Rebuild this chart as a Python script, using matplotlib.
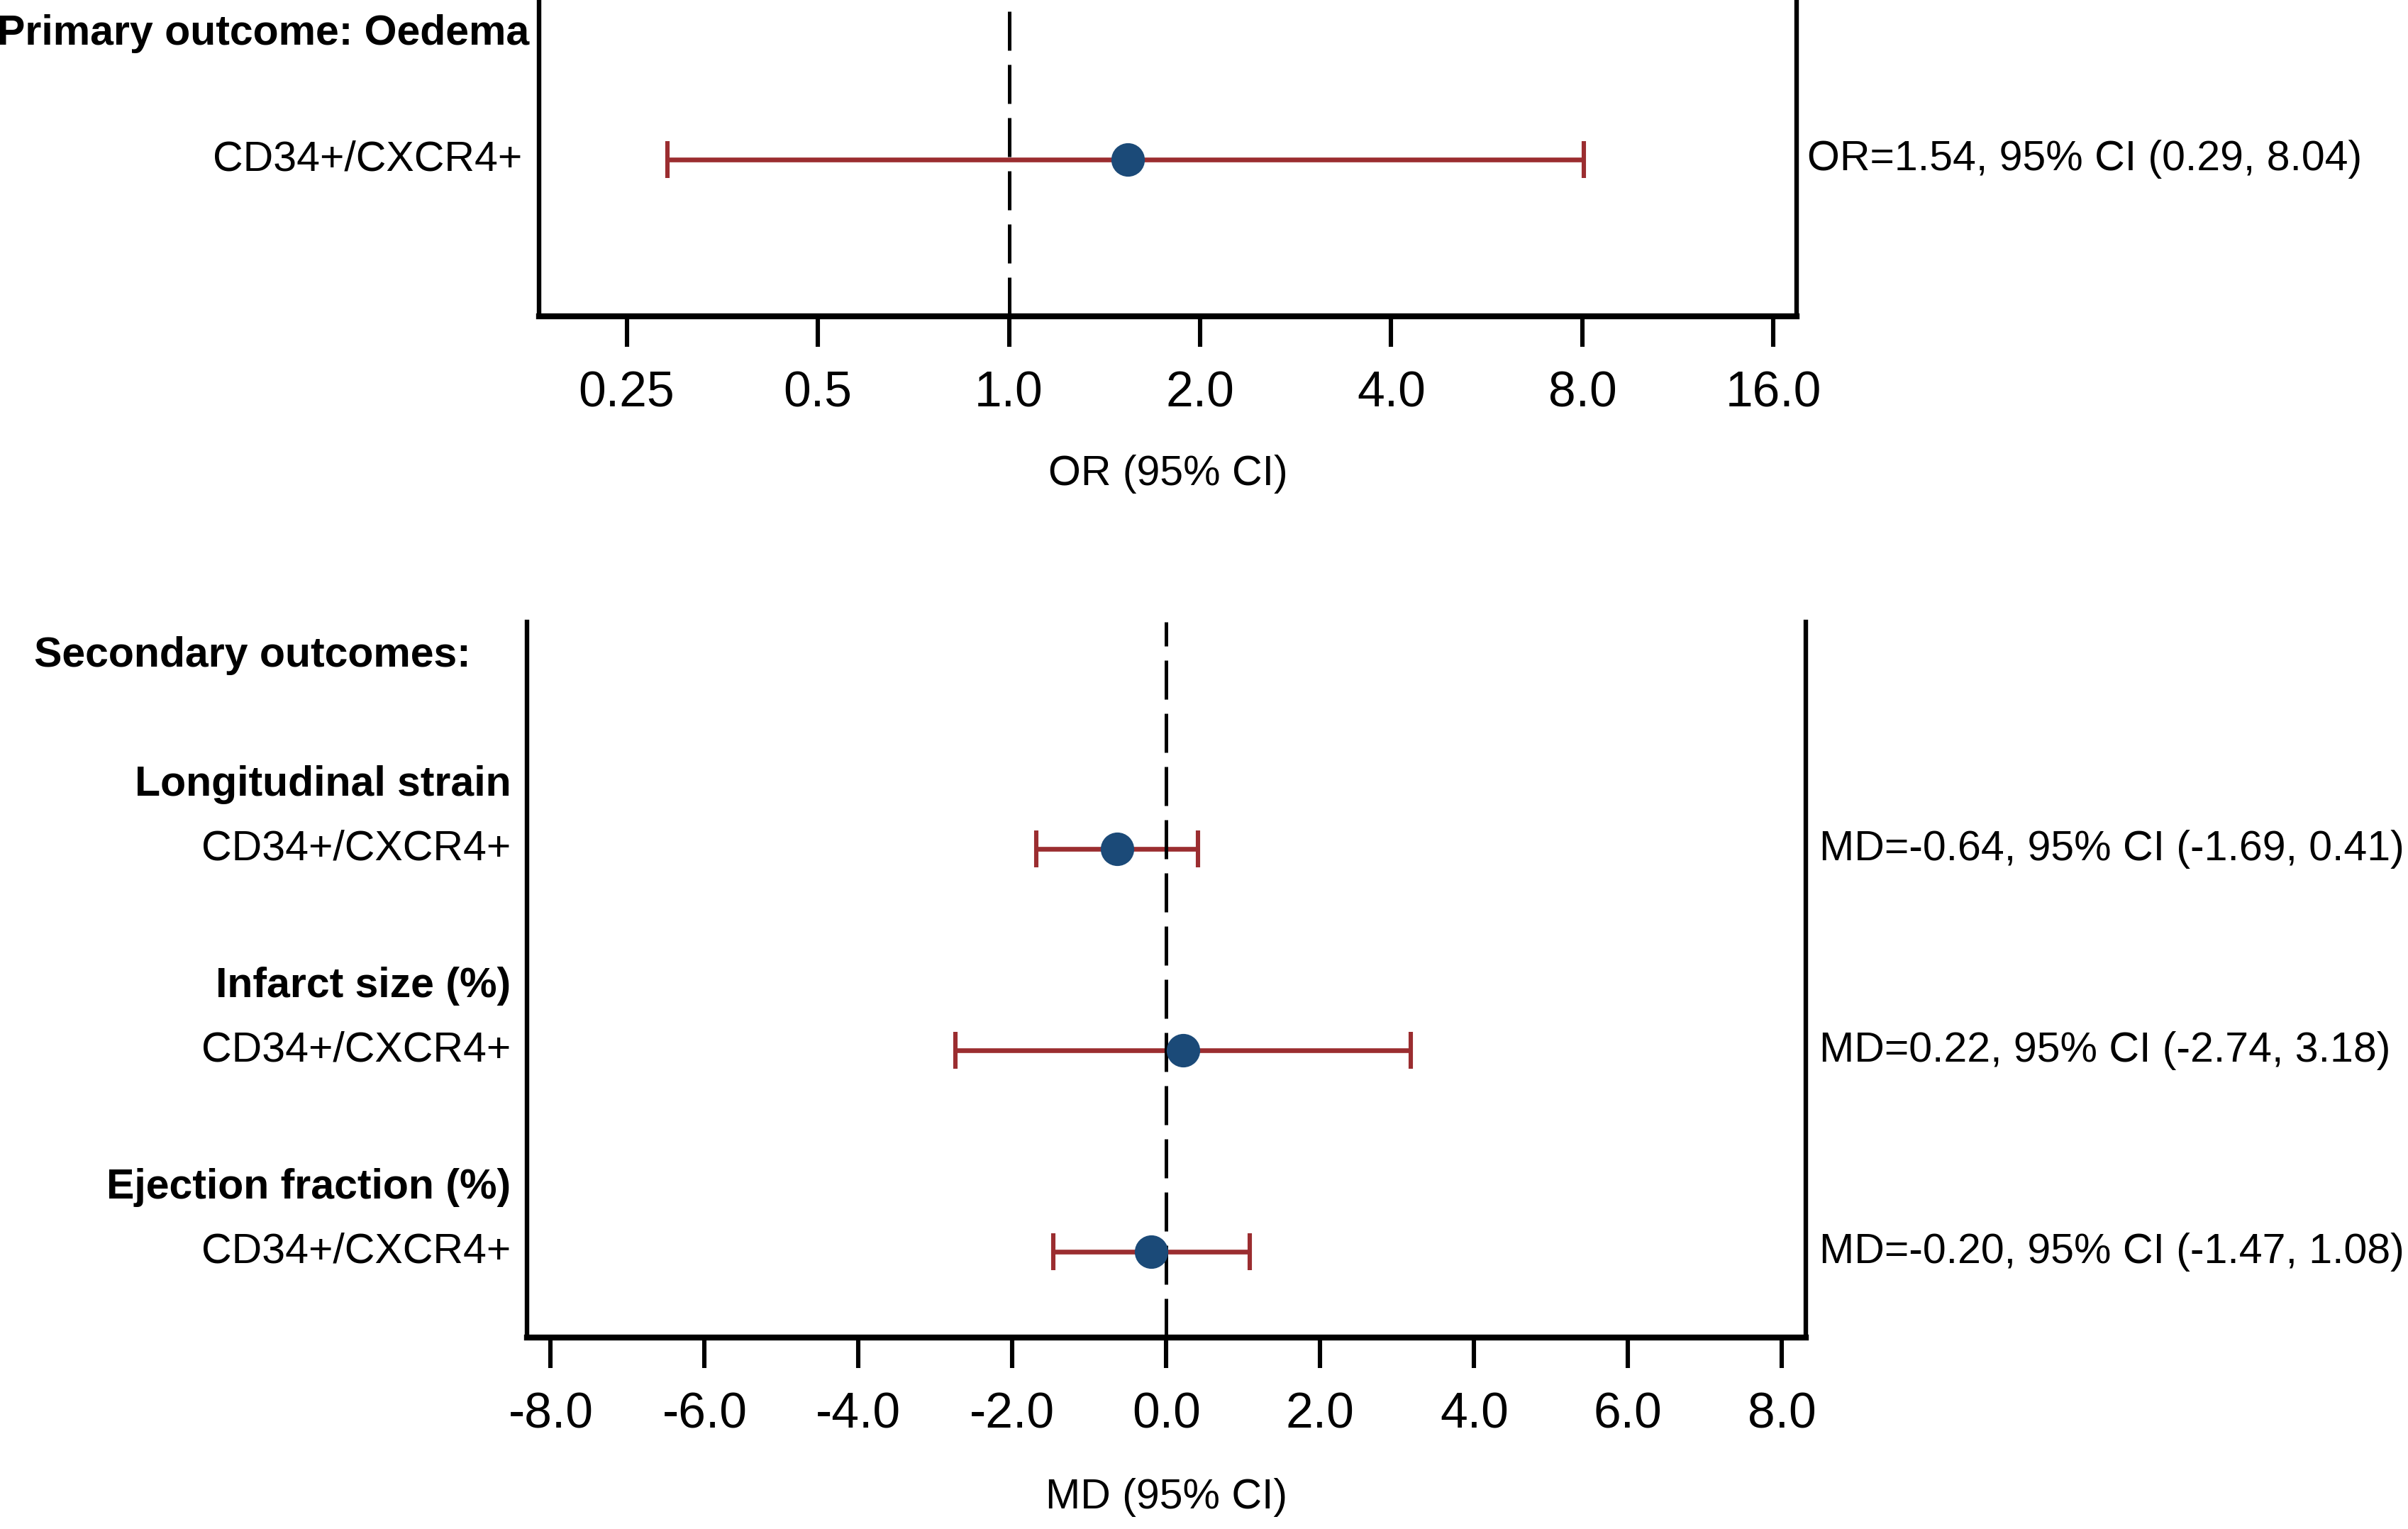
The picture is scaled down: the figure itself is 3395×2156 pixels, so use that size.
import numpy as np
import matplotlib
matplotlib.use("Agg")
from matplotlib import pyplot as plt
from matplotlib import font_manager

# pick a narrow sans if there is one
names = set(f.name for f in font_manager.fontManager.ttflist)
if "Liberation Sans Narrow" in names:
    plt.rcParams["font.family"] = ["Liberation Sans Narrow", "DejaVu Sans"]
    shrink = 1.0
else:
    plt.rcParams["font.family"] = ["Liberation Sans", "DejaVu Sans"]
    shrink = 0.85

# data
primary_heading = "Primary outcome: Oedema"
primary_group = "CD34+/CXCR4+"
or_est = [1.54]
or_lo = [0.29]
or_hi = [8.04]
or_ticks = [0.25, 0.5, 1.0, 2.0, 4.0, 8.0, 16.0]
or_ticklabels = ["0.25", "0.5", "1.0", "2.0", "4.0", "8.0", "16.0"]

secondary_heading = "Secondary outcomes:"
secondary_outcomes = ["Longitudinal strain", "Infarct size (%)", "Ejection fraction (%)"]
secondary_group = "CD34+/CXCR4+"
md_est = [-0.64, 0.22, -0.20]
md_lo = [-1.69, -2.74, -1.47]
md_hi = [0.41, 3.18, 1.08]
md_ticks = [-8.0, -6.0, -4.0, -2.0, 0.0, 2.0, 4.0, 6.0, 8.0]

bar_col = "#9b2d30"
dot_col = "#1b4a78"
fs_lab = 25 * shrink
fs_tick = 29.5 * shrink

fig = plt.figure(figsize=(16.975, 10.78), dpi=200)
ax1 = fig.add_axes([0.2239, 0.7931, 0.5222, 0.2069])
ax2 = fig.add_axes([0.2188, 0.1252, 0.5311, 0.4680])


def style(ax):
    ax.spines["top"].set_visible(False)
    for s in ["left", "right"]:
        ax.spines[s].set_linewidth(2.3)
    ax.spines["bottom"].set_linewidth(3.0)
    ax.tick_params(axis="y", left=False, labelleft=False)
    ax.tick_params(axis="x", direction="out", length=15.5, width=2.2,
                   labelsize=fs_tick, pad=12)
    ax.tick_params(axis="x", which="minor", bottom=False)


# ---- top panel: odds ratio (log scale)
y1 = np.arange(len(or_est)) + 1
ax1.set_xscale("log", base=2)
ax1.errorbar(or_est, y1,
             xerr=[np.array(or_est) - np.array(or_lo), np.array(or_hi) - np.array(or_est)],
             fmt="none", ecolor=bar_col, elinewidth=2.4, capsize=9.5, capthick=2.2, zorder=2)
ax1.axvline(1.0, color="black", lw=1.8, ls=(0, (11, 4)), zorder=3)
ax1.plot(or_est, y1, "o", color=dot_col, markersize=16, zorder=4)
ax1.set_xlim(0.182, 17.4)
ax1.set_ylim(2.249, -0.271)
ax1.set_xticks(or_ticks)
ax1.set_xticklabels(or_ticklabels)
style(ax1)
ax1.set_xlabel("OR (95% CI)", fontsize=fs_lab, labelpad=19)

ax1.annotate(primary_heading, xy=(0, 0), xycoords=("axes fraction", "data"),
             xytext=(-5, 0), textcoords="offset points", ha="right", va="center",
             fontsize=fs_lab, fontweight="bold")
for yy, e, lo, hi in zip(y1, or_est, or_lo, or_hi):
    ax1.annotate(primary_group, xy=(0, yy), xycoords=("axes fraction", "data"),
                 xytext=(-8.5, 0), textcoords="offset points", ha="right", va="center",
                 fontsize=fs_lab)
    ax1.annotate("OR=%.2f, 95%% CI (%.2f, %.2f)" % (e, lo, hi), xy=(1, yy),
                 xycoords=("axes fraction", "data"), xytext=(5.5, 0),
                 textcoords="offset points", ha="left", va="center", fontsize=fs_lab)

# ---- bottom panel: mean differences
y2 = np.arange(len(md_est)) + 1
ax2.errorbar(md_est, y2,
             xerr=[np.array(md_est) - np.array(md_lo), np.array(md_hi) - np.array(md_est)],
             fmt="none", ecolor=bar_col, elinewidth=2.4, capsize=9.5, capthick=2.2, zorder=2)
ax2.axvline(0.0, color="black", lw=1.8, ls=(0, (11, 4)), zorder=3)
ax2.plot(md_est, y2, "o", color=dot_col, markersize=16, zorder=4)
ax2.set_xlim(-8.31, 8.31)
ax2.set_ylim(3.426, -0.127)
ax2.set_xticks(md_ticks)
ax2.set_xticklabels(["%.1f" % t for t in md_ticks])
style(ax2)
ax2.set_xlabel("MD (95% CI)", fontsize=fs_lab, labelpad=20)

ax2.annotate(secondary_heading, xy=(0.014, 0.04), xycoords=("figure fraction", "data"),
             ha="left", va="center", fontsize=fs_lab, fontweight="bold")
for yy, name, e, lo, hi in zip(y2, secondary_outcomes, md_est, md_lo, md_hi):
    ax2.annotate(name, xy=(0, yy - 0.32), xycoords=("axes fraction", "data"),
                 xytext=(-8, 0), textcoords="offset points", ha="right", va="center",
                 fontsize=fs_lab, fontweight="bold")
    ax2.annotate(secondary_group, xy=(0, yy), xycoords=("axes fraction", "data"),
                 xytext=(-8, 0), textcoords="offset points", ha="right", va="center",
                 fontsize=fs_lab)
    ax2.annotate("MD=%.2f, 95%% CI (%.2f, %.2f)" % (e, lo, hi), xy=(1, yy),
                 xycoords=("axes fraction", "data"), xytext=(7, 0),
                 textcoords="offset points", ha="left", va="center", fontsize=fs_lab,
                 annotation_clip=False)

fig.savefig("out.png", dpi=200)
